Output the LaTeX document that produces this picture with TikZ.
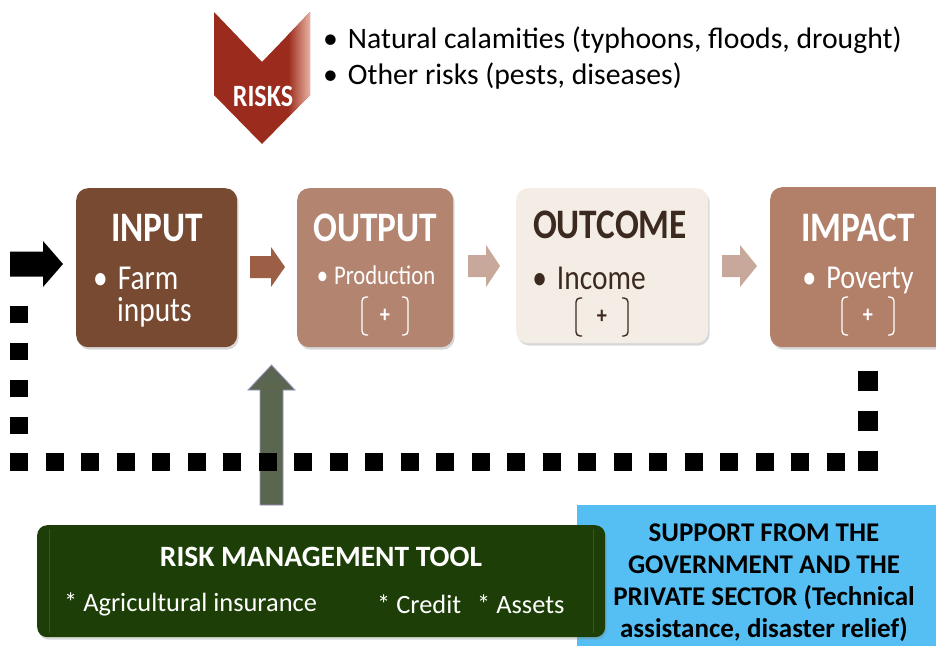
\documentclass[tikz,border=0pt]{standalone}
\usepackage{fontspec}
\setmainfont{Carlito}[FakeStretch=0.84]
\newfontfamily\plainfont{Carlito}
\usetikzlibrary{shadows,calc}
\definecolor{inputc}{HTML}{774A31}
\definecolor{outputc}{HTML}{B38470}
\definecolor{outcomec}{HTML}{F3EDE6}
\definecolor{impactc}{HTML}{B27F69}
\definecolor{arrowa}{HTML}{9C5E44}
\definecolor{arrowb}{HTML}{C8A89A}
\definecolor{darkbrown}{HTML}{3C2A20}
\definecolor{greenbox}{HTML}{1D3F07}
\definecolor{greenedge}{HTML}{34591C}
\definecolor{bluebox}{HTML}{55BFF3}
\definecolor{garrow}{HTML}{5A6650}
\definecolor{garrowedge}{HTML}{9A92C4}
\definecolor{risksred}{HTML}{9B2B1D}
\definecolor{riskslight}{HTML}{EDB9A8}
\tikzset{
  stagebox/.style={rounded corners=12pt, anchor=north west, inner sep=0pt,
    drop shadow={opacity=0.3, shadow xshift=1.5pt, shadow yshift=-2.5pt}},
  title/.style={font=\fontsize{42}{42}\selectfont\bfseries},
  item/.style={anchor=west, inner sep=0pt},
  dotsq/.style={line width=18pt, line cap=butt, dash pattern=on 18pt off 19pt},
}
\newcommand\pmbracket[5]{%
  \node[text=#4, font=\fontsize{24}{24}\selectfont\bfseries] (#1) at (#2,#3) {+};
  \draw[#4, line width=1.4pt, rounded corners=4pt] (#2-#5+6,#3-19) -- (#2-#5,#3-19) -- (#2-#5,#3+19) -- (#2-#5+6,#3+19);
  \draw[#4, line width=1.4pt, rounded corners=4pt] (#2+#5-6,#3-19) -- (#2+#5,#3-19) -- (#2+#5,#3+19) -- (#2+#5-6,#3+19);
}
\newcommand\rightblock[7]{%
  \fill[#7] (#1,#4-#5) -- (#3,#4-#5) -- (#3,#4-#6) -- (#2,#4) -- (#3,#4+#6) -- (#3,#4+#5) -- (#1,#4+#5) -- cycle;
}
\begin{document}
\begin{tikzpicture}[x=1pt,y=-1pt]
\clip (0,0) rectangle (936,645);
\fill[white] (0,0) rectangle (936,645);

% RISKS chevron
\fill[risksred] (214,12) -- (262,62) -- (310,12) -- (310,95) -- (262,144) -- (214,95) -- cycle;
\begin{scope}
  \clip (214,12) -- (262,62) -- (310,12) -- (310,95) -- (262,144) -- (214,95) -- cycle;
  \shade[left color=risksred, right color=riskslight] (288,0) rectangle (311,150);
\end{scope}
\node[text=white, font=\fontsize{31}{31}\selectfont\bfseries] (risks) at (263,96) {RISKS};
\node[item, font=\plainfont\fontsize{29.7}{36}\selectfont] (risk1) at (323,40) {•\hspace{10pt}Natural calamities (typhoons, floods, drought)};
\node[item, font=\plainfont\fontsize{29.7}{36}\selectfont] (risk2) at (323,76) {•\hspace{10pt}Other risks (pests, diseases)};

% stage boxes
\node[stagebox, fill=inputc, minimum width=161pt, minimum height=159pt] (input) at (76,188) {};
\node[stagebox, fill=outputc, minimum width=156pt, minimum height=159pt] (output) at (297,188) {};
\node[stagebox, fill=outcomec, minimum width=192pt, minimum height=155pt] (outcome) at (516,188) {};
\node[stagebox, fill=impactc, minimum width=200pt, minimum height=160pt] (impact) at (770,187) {};

\node[title, text=white] (inputt) at (157,228) {INPUT};
\node[item, text=white, align=left, font=\fontsize{35}{32}\selectfont] (inputi) at (93,297) {•\hspace{10pt}Farm\\\hspace{24pt}inputs};

\node[title, text=white] (outputt) at (375,228) {OUTPUT};
\node[text=white, font=\fontsize{27}{27}\selectfont] (outputi) at (376,275) {•\hspace{6pt}Production};
\pmbracket{outputb}{385}{316}{white}{23}

\node[title, text=darkbrown] (outcomet) at (610,225) {OUTCOME};
\node[text=darkbrown, font=\fontsize{35}{35}\selectfont] (outcomei) at (589,278) {•\hspace{10pt}Income};
\pmbracket{outcomeb}{602}{317}{darkbrown}{26}

\node[title, text=white] (impactt) at (858,228) {IMPACT};
\node[text=white, font=\fontsize{33.5}{33.5}\selectfont] (impacti) at (858,280) {•\hspace{10pt}Poverty};
\pmbracket{impactb}{868}{316}{white}{26}

% block arrows between stages
\rightblock{250}{285}{271}{267}{11}{20}{arrowa}
\rightblock{468}{500}{486}{266}{11}{21}{arrowb}
\rightblock{722}{757}{740}{266}{11}{21}{arrowb}
\rightblock{10}{63}{43}{264}{12.5}{23}{black}

% risk management arrow
\draw[fill=garrow, draw=garrowedge, line width=0.8pt] (260,505) -- (260,390) -- (248,390) -- (271.5,365) -- (295,390) -- (283,390) -- (283,505) -- cycle;

% feedback dotted loop
\coordinate (fbR) at (868,362);
\coordinate (fbRB) at (868,462);
\coordinate (fbLB) at (19,462);
\coordinate (fbL) at (19,300);
\draw[dotsq, line width=20pt, dash pattern=on 20pt off 20pt] ($(fbRB)+(0,9)$) -- (fbR);
\draw[dotsq, dash pattern=on 18pt off 17.5pt] ($(fbLB)+(-9,0)$) -- ($(fbRB)+(9,0)$);
\draw[dotsq, dash pattern=on 17pt off 20pt] ($(fbLB)+(0,9)$) -- (fbL);

% support box
\fill[bluebox] (577,505) rectangle (940,650);
\node[align=center, text=black, inner sep=0pt, font=\plainfont\fontsize{27}{32}\selectfont\bfseries] (support) at (764,583)
  {SUPPORT FROM THE\\GOVERNMENT AND THE\\PRIVATE SECTOR (Technical\\assistance, disaster relief)};

% risk management tool box
\node[stagebox, fill=greenbox, rounded corners=10pt, minimum width=568pt, minimum height=112pt] (rmt) at (37,525) {};
\draw[greenedge, line width=1pt] (49,529) -- (49,633);
\draw[greenedge, line width=1pt] (593,529) -- (593,633);
\node[text=white, font=\plainfont\fontsize{29.5}{30}\selectfont\bfseries] (rmtt) at (321,557) {RISK MANAGEMENT TOOL};
\node[item, text=white, font=\plainfont\fontsize{26.4}{28}\selectfont] (rmt1) at (64,604) {* Agricultural insurance};
\node[item, text=white, font=\plainfont\fontsize{26.4}{28}\selectfont] (rmt2) at (377,604) {* Credit};
\node[item, text=white, font=\plainfont\fontsize{26.4}{28}\selectfont] (rmt3) at (477,604) {* Assets};
\end{tikzpicture}
\end{document}
